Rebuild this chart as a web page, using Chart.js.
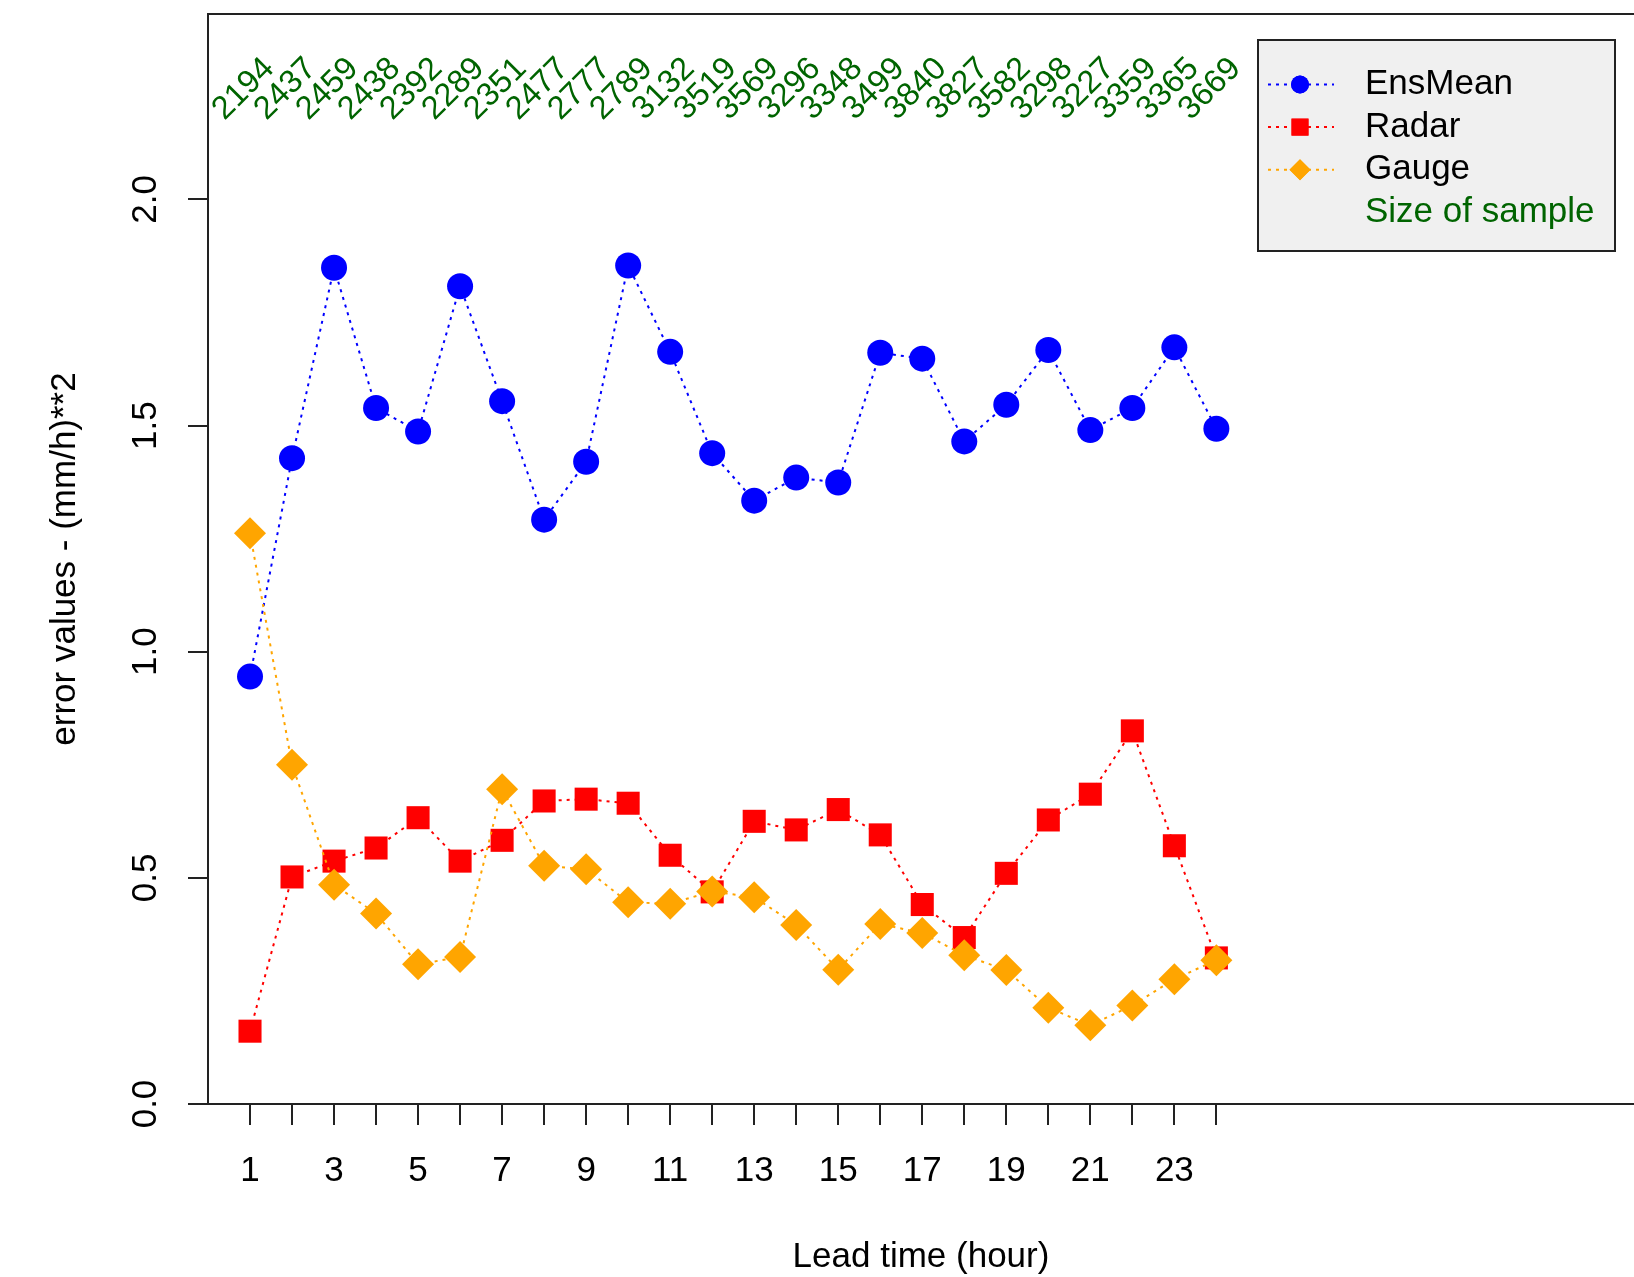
<!DOCTYPE html>
<html>
<head>
<meta charset="utf-8">
<title>Error values by lead time</title>
<script src="https://cdn.jsdelivr.net/npm/chart.js@4.4.1/dist/chart.umd.min.js"></script>
<style>
  html, body { margin: 0; padding: 0; background: #ffffff; }
  #wrap { width: 1634px; height: 1277px; }
</style>
</head>
<body>
<div id="wrap"><canvas id="errorChart" width="1634" height="1277"></canvas></div>
<script>
const leadTimes = [1, 2, 3, 4, 5, 6, 7, 8, 9, 10, 11, 12, 13, 14, 15, 16, 17, 18, 19, 20, 21, 22, 23, 24];
const xLabelTimes = [1, 3, 5, 7, 9, 11, 13, 15, 17, 19, 21, 23];
const yTickValues = [0, 0.5, 1.0, 1.5, 2.0];

const ensMean = [0.945, 1.428, 1.849, 1.539, 1.487, 1.808, 1.554, 1.292, 1.420, 1.854, 1.663, 1.439,
                 1.334, 1.385, 1.374, 1.661, 1.648, 1.465, 1.546, 1.667, 1.490, 1.539, 1.673, 1.493];
const radar = [0.161, 0.502, 0.537, 0.566, 0.633, 0.537, 0.583, 0.670, 0.674, 0.665, 0.550, 0.469,
               0.625, 0.606, 0.651, 0.595, 0.441, 0.368, 0.510, 0.628, 0.685, 0.825, 0.571, 0.323];
const gauge = [1.262, 0.750, 0.485, 0.421, 0.309, 0.325, 0.696, 0.527, 0.519, 0.446, 0.443, 0.470,
               0.457, 0.396, 0.297, 0.398, 0.378, 0.329, 0.296, 0.213, 0.174, 0.218, 0.276, 0.318];
const sampleSizes = [2194, 2437, 2459, 2438, 2392, 2289, 2351, 2477, 2777, 2789, 3132, 3519,
                     3569, 3296, 3348, 3499, 3840, 3827, 3582, 3298, 3227, 3359, 3365, 3669];

const FONT = "'Liberation Sans', Arial, Helvetica, sans-serif";
const AXIS_COLOR = "#222222";
const SAMPLE_COLOR = "#006400";
const SAMPLE_Y = 2.23;

Chart.defaults.font.family = FONT;
Chart.defaults.color = "#000000";

function toPoints(values) {
  return leadTimes.map((t, i) => ({ x: t, y: values[i] }));
}

// series styles (legend reuses them with smaller markers)
const series = [
  { label: "EnsMean", data: ensMean, color: "#0000ff", style: "circle", radius: 13, legendRadius: 9, order: 3 },
  { label: "Radar", data: radar, color: "#ff0000", style: "rect", radius: 16.3, legendRadius: 12, order: 2 },
  { label: "Gauge", data: gauge, color: "#ffa500", style: "rectRot", radius: 16, legendRadius: 10.5, order: 1 }
];

// frame line along the top of the plot region
const framePlugin = {
  id: "frame",
  beforeDatasetsDraw(chart) {
    const { ctx, chartArea } = chart;
    ctx.save();
    ctx.strokeStyle = AXIS_COLOR;
    ctx.lineWidth = 2;
    ctx.beginPath();
    ctx.moveTo(chartArea.left, chartArea.top);
    ctx.lineTo(chartArea.right, chartArea.top);
    ctx.stroke();
    ctx.restore();
  }
};

// rotated sample size labels above each lead time
const sampleLabelPlugin = {
  id: "sampleLabels",
  afterDatasetsDraw(chart) {
    const { ctx } = chart;
    const xs = chart.scales.x;
    const ys = chart.scales.y;
    const y = ys.getPixelForValue(SAMPLE_Y);
    ctx.save();
    ctx.fillStyle = SAMPLE_COLOR;
    ctx.font = "32.5px " + FONT;
    ctx.textAlign = "center";
    ctx.textBaseline = "alphabetic";
    leadTimes.forEach((t, i) => {
      ctx.save();
      ctx.translate(xs.getPixelForValue(t), y);
      ctx.rotate(-Math.PI / 4);
      ctx.fillText(String(sampleSizes[i]), 0, 0);
      ctx.restore();
    });
    ctx.restore();
  }
};

const legendPlugin = {
  id: "boxLegend",
  afterDraw(chart) {
    const { ctx, chartArea } = chart;
    const left = chartArea.right - 376;
    const top = chartArea.top + 26;
    const width = 357;
    const height = 211;
    const rowGap = 42.6;
    const firstRow = top + 44.5;

    ctx.save();
    ctx.fillStyle = "#f0f0f0";
    ctx.fillRect(left, top, width, height);
    ctx.strokeStyle = AXIS_COLOR;
    ctx.lineWidth = 2;
    ctx.strokeRect(left, top, width, height);

    ctx.font = "35px " + FONT;
    ctx.textAlign = "left";
    ctx.textBaseline = "middle";

    series.forEach((s, i) => {
      const y = firstRow + i * rowGap;
      ctx.save();
      ctx.strokeStyle = s.color;
      ctx.lineWidth = 2;
      ctx.setLineDash([3, 5]);
      ctx.beginPath();
      ctx.moveTo(left + 10, y);
      ctx.lineTo(left + 76, y);
      ctx.stroke();
      ctx.restore();

      ctx.fillStyle = s.color;
      Chart.helpers.drawPoint(ctx, {
        pointStyle: s.style,
        radius: s.legendRadius,
        rotation: 0,
        borderWidth: 0
      }, left + 42, y);
      ctx.fill();

      ctx.fillStyle = "#000000";
      ctx.fillText(s.label, left + 107, y);
    });

    ctx.fillStyle = SAMPLE_COLOR;
    ctx.fillText("Size of sample", left + 107, firstRow + 3 * rowGap);
    ctx.restore();
  }
};

const datasets = series.map((s) => ({
  label: s.label,
  data: toPoints(s.data),
  order: s.order,
  borderColor: s.color,
  backgroundColor: s.color,
  borderWidth: 2,
  borderDash: [3, 5],
  fill: false,
  tension: 0,
  pointStyle: s.style,
  pointRadius: s.radius,
  pointHoverRadius: s.radius,
  pointBackgroundColor: s.color,
  pointBorderColor: s.color,
  pointBorderWidth: 0
}));

new Chart(document.getElementById("errorChart"), {
  type: "line",
  data: { datasets },
  plugins: [framePlugin, sampleLabelPlugin, legendPlugin],
  options: {
    responsive: false,
    animation: false,
    devicePixelRatio: 1,
    layout: { autoPadding: false, padding: { top: 14, right: 0, bottom: 0, left: 0 } },
    plugins: {
      legend: { display: false },
      tooltip: { enabled: false }
    },
    scales: {
      x: {
        type: "linear",
        min: 0,
        max: 33.94,
        afterBuildTicks: (scale) => {
          scale.ticks = leadTimes.map((v) => ({ value: v }));
        },
        afterFit: (scale) => {
          scale.height = 173;
          scale.paddingLeft = 0;
          scale.paddingRight = 0;
        },
        grid: {
          drawOnChartArea: false,
          drawTicks: true,
          tickLength: 21,
          color: AXIS_COLOR,
          lineWidth: 2
        },
        border: { display: true, color: AXIS_COLOR, width: 2 },
        ticks: {
          autoSkip: false,
          maxRotation: 0,
          minRotation: 0,
          padding: 25,
          color: "#000000",
          font: { size: 35 },
          callback: (value) => (xLabelTimes.includes(value) ? String(value) : "")
        },
        title: {
          display: true,
          text: "Lead time (hour)",
          color: "#000000",
          font: { size: 35 },
          padding: { top: 0, bottom: -1.5 }
        }
      },
      y: {
        type: "linear",
        min: 0,
        max: 2.41,
        afterBuildTicks: (scale) => {
          scale.ticks = yTickValues.map((v) => ({ value: v }));
        },
        afterFit: (scale) => {
          scale.width = 208;
          scale.paddingTop = 0;
          scale.paddingBottom = 0;
        },
        grid: {
          drawOnChartArea: false,
          drawTicks: true,
          tickLength: 20,
          color: AXIS_COLOR,
          lineWidth: 2
        },
        border: { display: true, color: AXIS_COLOR, width: 2 },
        ticks: {
          minRotation: 90,
          maxRotation: 90,
          crossAlign: "center",
          padding: 17,
          color: "#000000",
          font: { size: 35 },
          callback: (value) => Number(value).toFixed(1)
        },
        title: {
          display: true,
          text: "error values - (mm/h)**2",
          color: "#000000",
          font: { size: 35 },
          padding: { top: 44, bottom: 0 }
        }
      }
    }
  }
});
</script>
</body>
</html>
